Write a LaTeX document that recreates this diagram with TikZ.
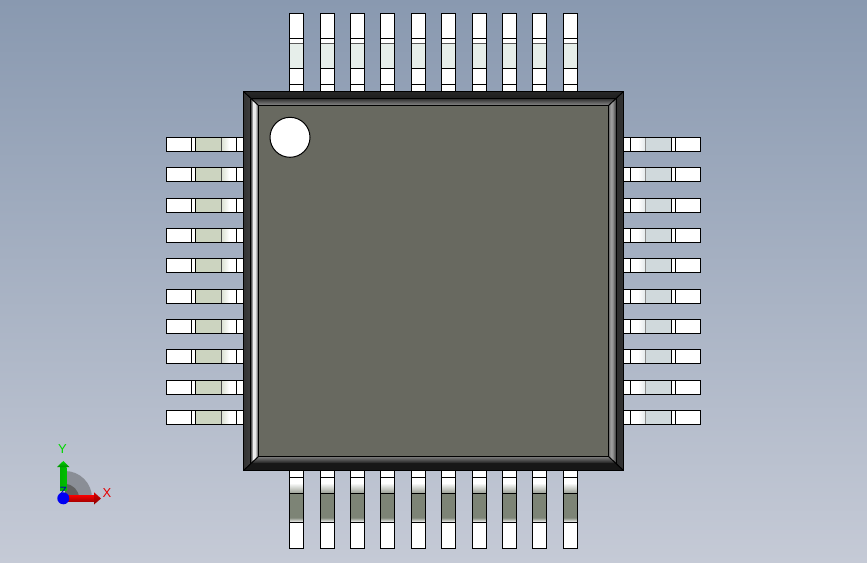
\documentclass[tikz,border=0pt]{standalone}
\usepackage{fontspec}
\setmainfont{Liberation Sans}
\definecolor{bgtop}{RGB}{137,153,176}
\definecolor{bgbot}{RGB}{197,202,214}
\definecolor{face}{RGB}{104,105,96}
\definecolor{leadl}{RGB}{204,212,192}
\definecolor{leadr}{RGB}{208,217,220}
\definecolor{leadt}{RGB}{230,238,234}
\definecolor{leadb}{RGB}{125,132,118}
\pgfdeclarehorizontalshading{bevelleft}{100bp}{
  color(0bp)=(black!80); color(25bp)=(black!75); color(33bp)=(black!55); color(38bp)=(white!94!black);
  color(55bp)=(white!90!black); color(66bp)=(black!50); color(75bp)=(black!55); color(100bp)=(black!55)}
\pgfdeclarehorizontalshading{bevelright}{100bp}{
  color(0bp)=(black!65); color(25bp)=(black!60); color(38bp)=(black!38); color(50bp)=(black!42);
  color(66bp)=(black!68); color(75bp)=(black!72); color(100bp)=(black!72)}
\tikzset{
  edge/.style={draw=black,line width=1pt},
  divider/.style={black,line width=1pt},
  bevel/.style={draw=black,line width=1pt},
  axislabel/.style={inner sep=0pt,font=\fontsize{13}{13}\selectfont}
}
\begin{document}
\begin{tikzpicture}[x=1pt,y=-1pt]
\useasboundingbox (0,0) rectangle (867,562);
\shade[top color=bgtop,bottom color=bgbot] (0,0) rectangle (867,562);
% left and right leads
\foreach \i in {0,...,9}{
  \pgfmathsetmacro{\yt}{137.5+round(30.33*\i)}
  \pgfmathsetmacro{\yb}{\yt+14}
  \fill[white] (166.5,\yt) rectangle (244,\yb);
  \fill[leadl] (195.5,\yt) rectangle (221.5,\yb);
  \shade[left color=leadl!70!white,right color=white] (221.5,\yt) rectangle (229,\yb);
  \draw[divider] (191.5,\yt)--(191.5,\yb) (195.5,\yt)--(195.5,\yb) (236.5,\yt)--(236.5,\yb);
  \draw[black!70,line width=.8pt] (221.5,\yt)--(221.5,\yb);
  \draw[edge] (244,\yt)--(166.5,\yt)--(166.5,\yb)--(244,\yb);
  \fill[white] (623,\yt) rectangle (700.5,\yb);
  \fill[leadr] (645.5,\yt) rectangle (671.5,\yb);
  \shade[left color=white,right color=leadr!60!white] (638,\yt) rectangle (645.5,\yb);
  \draw[divider] (630.5,\yt)--(630.5,\yb) (671.5,\yt)--(671.5,\yb) (675.5,\yt)--(675.5,\yb);
  \draw[black!45,line width=.6pt] (645.5,\yt)--(645.5,\yb);
  \draw[edge] (623,\yt)--(700.5,\yt)--(700.5,\yb)--(623,\yb);
}
% top and bottom leads
\foreach \i in {0,...,9}{
  \pgfmathsetmacro{\xl}{0.5+round(289.3+30.37*\i)}
  \pgfmathsetmacro{\xr}{\xl+14}
  \fill[white] (\xl,13.5) rectangle (\xr,92);
  \fill[leadt] (\xl,43.5) rectangle (\xr,68.5);
  \draw[divider] (\xl,38.5)--(\xr,38.5) (\xl,68.5)--(\xr,68.5) (\xl,84.5)--(\xr,84.5);
  \draw[black!65,line width=1pt] (\xl,43.5)--(\xr,43.5);
  \draw[edge] (\xl,92)--(\xl,13.5)--(\xr,13.5)--(\xr,92);
  \fill[white] (\xl,470) rectangle (\xr,548.5);
  \shade[top color=white,bottom color=leadb!80!white] (\xl,483) rectangle (\xr,493.5);
  \fill[leadb] (\xl,493.5) rectangle (\xr,518.5);
  \shade[top color=leadb!80!white,bottom color=white] (\xl,518.5) rectangle (\xr,522.5);
  \draw[divider] (\xl,477.5)--(\xr,477.5) (\xl,493.5)--(\xr,493.5) (\xl,522.5)--(\xr,522.5);
  \draw[edge] (\xl,470)--(\xl,548.5)--(\xr,548.5)--(\xr,470);
}
% package body
\fill[black] (243.5,91.5) rectangle (623.5,470.5);
\shade[top color=black!85,bottom color=black!88] (243.5,91.5)--(623.5,91.5)--(616.5,98.5)--(250.5,98.5)--cycle;
\shade[left color=black!80,right color=black!76] (243.5,91.5)--(250.5,98.5)--(250.5,463.5)--(243.5,470.5)--cycle;
\shade[left color=black!82,right color=black!80] (623.5,91.5)--(623.5,470.5)--(616.5,463.5)--(616.5,98.5)--cycle;
\fill[black!91] (243.5,470.5)--(250.5,463.5)--(616.5,463.5)--(623.5,470.5)--cycle;
\shade[top color=black!82,bottom color=black!45] (250.5,98.5)--(616.5,98.5)--(608.5,105.5)--(258.5,105.5)--cycle;
\shade[shading=bevelleft] (250.5,98.5)--(258.5,105.5)--(258.5,456.5)--(250.5,463.5)--cycle;
\shade[shading=bevelright] (616.5,98.5)--(616.5,463.5)--(608.5,456.5)--(608.5,105.5)--cycle;
\shade[top color=black!50,bottom color=black!90] (250.5,463.5)--(258.5,456.5)--(608.5,456.5)--(616.5,463.5)--cycle;
\draw[bevel,fill=face] (258.5,105.5) rectangle (608.5,456.5);
\draw[bevel] (243.5,91.5) rectangle (623.5,470.5);
\draw[bevel] (250.5,98.5)--(250.5,463.5);
\draw[bevel] (616.5,98.5)--(616.5,463.5);
\draw[bevel] (250.5,98.5)--(616.5,98.5);
\draw[bevel] (243.5,91.5)--(258.5,105.5) (623.5,91.5)--(608.5,105.5) (243.5,470.5)--(258.5,456.5) (623.5,470.5)--(608.5,456.5);
\node[edge,fill=white,circle,minimum size=40pt,inner sep=0pt] (pinone) at (290,137.3) {};
% axis triad
\fill[black!30!bgbot] (65,498) -- (65,471) arc[start angle=-90,end angle=0,radius=27] -- cycle;
\fill[black!62] (65,498) -- (65,484) arc[start angle=-90,end angle=0,radius=14] -- cycle;
\shade[left color=green!70!black,middle color=green!55!white,right color=green!75!black] (60,467) rectangle (66.5,490);
\shade[top color=green!85!black,bottom color=green!55!black] (57,467)--(63.3,461)--(69.5,467)--cycle;
\node[axislabel,text=blue!70!black,font=\fontsize{12}{12}\selectfont] (zlabel) at (63.3,491) {Z};
\shade[top color=red!95!black,bottom color=red!65!black] (63,495.5) rectangle (94,501.7);
\shade[top color=red!85!black,bottom color=red!55!black] (94,492.3)--(101,498.5)--(94,504.5)--cycle;
\fill[blue!95!black] (63.3,498.3) circle (6);
\node[axislabel,text=green!85!black] (ylabel) at (62.5,449.5) {Y};
\node[axislabel,text=red!90!black] (xlabel) at (107,493) {X};
\end{tikzpicture}
\end{document}
